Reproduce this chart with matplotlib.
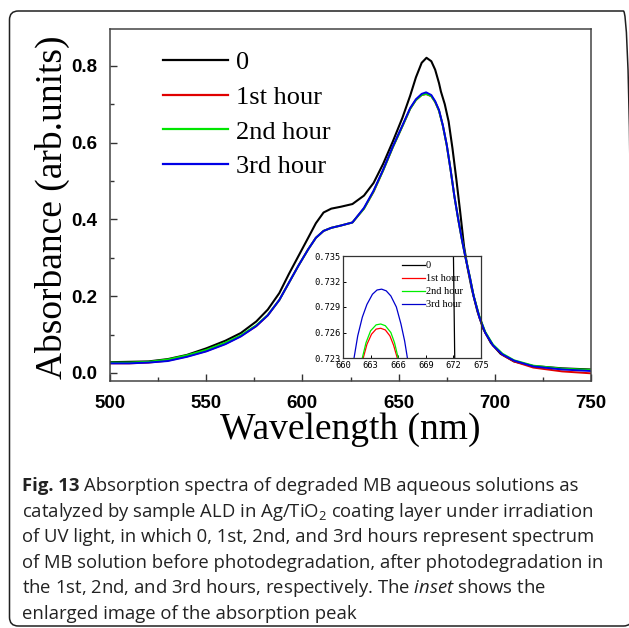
import matplotlib
matplotlib.use("Agg")
import matplotlib.pyplot as plt
from matplotlib.patches import FancyBboxPatch
from matplotlib.ticker import MultipleLocator, FormatStrFormatter

# absorbance
wl_0 = [500, 510, 520, 530, 540, 550, 560, 568, 576, 582, 588, 593, 598, 603, 607, 611,
        615, 620, 626, 632, 637, 642, 647, 652, 656, 659, 662, 664.5, 667, 669, 671, 672,
        674, 676, 678, 680, 682, 684, 686, 688, 691, 694, 698, 703, 710, 720, 735, 750]
abs_0 = [0.028, 0.029, 0.030, 0.036, 0.047, 0.064, 0.084, 0.104, 0.134, 0.165, 0.208, 0.258,
         0.305, 0.352, 0.390, 0.418, 0.428, 0.433, 0.440, 0.462, 0.495, 0.545, 0.603, 0.665,
         0.722, 0.770, 0.808, 0.821, 0.812, 0.790, 0.755, 0.733, 0.700, 0.655, 0.585, 0.505,
         0.420, 0.330, 0.270, 0.220, 0.160, 0.115, 0.078, 0.050, 0.030, 0.018, 0.012, 0.009]

wl_h = [500, 510, 520, 530, 540, 550, 560, 568, 576, 582, 588, 593, 598, 603, 607, 611,
        615, 620, 626, 632, 637, 642, 647, 652, 656, 659, 662, 664.3, 667, 669, 671, 673,
        675, 677, 679, 681, 683, 685, 687, 689, 692, 695, 699, 704, 710, 720, 735, 750]
abs_1h = [0.025, 0.025, 0.027, 0.032, 0.043, 0.057, 0.076, 0.096, 0.122, 0.150, 0.190, 0.235,
          0.280, 0.322, 0.352, 0.370, 0.378, 0.384, 0.392, 0.428, 0.472, 0.528, 0.588, 0.643,
          0.688, 0.711, 0.724, 0.7265, 0.721, 0.706, 0.683, 0.644, 0.594, 0.530, 0.460, 0.400,
          0.345, 0.295, 0.250, 0.200, 0.145, 0.105, 0.072, 0.047, 0.030, 0.014, 0.004, -0.001]
abs_2h = [0.027, 0.027, 0.029, 0.035, 0.046, 0.060, 0.079, 0.098, 0.124, 0.151, 0.190, 0.235,
          0.280, 0.322, 0.352, 0.370, 0.378, 0.384, 0.392, 0.428, 0.473, 0.528, 0.588, 0.643,
          0.688, 0.711, 0.724, 0.727, 0.721, 0.706, 0.683, 0.644, 0.594, 0.530, 0.460, 0.400,
          0.345, 0.296, 0.251, 0.201, 0.147, 0.107, 0.074, 0.050, 0.033, 0.019, 0.011, 0.008]
abs_3h = [0.025, 0.025, 0.027, 0.031, 0.042, 0.056, 0.075, 0.095, 0.122, 0.150, 0.190, 0.235,
          0.280, 0.322, 0.352, 0.370, 0.378, 0.384, 0.392, 0.430, 0.475, 0.530, 0.590, 0.645,
          0.690, 0.713, 0.727, 0.731, 0.724, 0.708, 0.685, 0.645, 0.595, 0.530, 0.460, 0.400,
          0.345, 0.295, 0.250, 0.200, 0.145, 0.105, 0.072, 0.048, 0.032, 0.017, 0.009, 0.005]

# inset (zoom on the peak)
in_wl_0 = [672.00, 672.15]
in_abs_0 = [0.7355, 0.7225]
in_wl_1h = [662.2, 662.6, 663.1, 663.6, 664.1, 664.6, 665.1, 665.5, 665.9]
in_abs_1h = [0.7230, 0.7246, 0.7258, 0.7264, 0.7265, 0.7263, 0.7256, 0.7245, 0.7230]
in_wl_2h = [662.1, 662.5, 663.0, 663.6, 664.1, 664.6, 665.2, 665.6, 666.0]
in_abs_2h = [0.7230, 0.7248, 0.7262, 0.7269, 0.7270, 0.7268, 0.7260, 0.7248, 0.7230]
in_wl_3h = [661.2, 661.6, 662.1, 662.6, 663.2, 663.7, 664.2, 664.7, 665.2, 665.8, 666.3, 666.7, 667.0]
in_abs_3h = [0.7230, 0.7256, 0.7278, 0.7293, 0.7305, 0.7310, 0.7311, 0.7309, 0.7303, 0.7290,
             0.7270, 0.7250, 0.7230]

labels = ["0", "1st hour", "2nd hour", "3rd hour"]
colors = ["black", "#e00000", "#00e600", "#0000e6"]

W, H = 629, 628
fig = plt.figure(figsize=(W / 100, H / 100), dpi=100)

# rounded frame round the figure + caption
frame = FancyBboxPatch((9.5 / W, 2 / H), 0.99, (H - 13) / H, boxstyle="round,pad=0,rounding_size=0.014",
                       transform=fig.transFigure, fill=False, ec="#202020", lw=1.1)
fig.patches.append(frame)

ax = fig.add_axes([110 / W, 1 - 381 / H, 481 / W, 352 / H])
ax.plot(wl_0, abs_0, color=colors[0], lw=1.5, label=labels[0])
ax.plot(wl_h, abs_1h, color=colors[1], lw=1.4, label=labels[1])
ax.plot(wl_h, abs_2h, color=colors[2], lw=1.4, label=labels[2])
ax.plot(wl_h, abs_3h, color=colors[3], lw=1.4, label=labels[3])
ax.set_xlim(500, 750)
ax.set_ylim(-0.021, 0.896)
ax.xaxis.set_major_locator(MultipleLocator(50))
ax.xaxis.set_minor_locator(MultipleLocator(25))
ax.yaxis.set_major_locator(MultipleLocator(0.2))
ax.yaxis.set_minor_locator(MultipleLocator(0.1))
ax.tick_params(which="both", direction="in", color="#333333", width=1)
ax.tick_params(which="major", length=5)
ax.tick_params(which="minor", length=3)
ax.tick_params(axis="x", pad=10)
ax.tick_params(axis="y", pad=9)
for lab in ax.get_xticklabels() + ax.get_yticklabels():
    lab.set_fontfamily("Liberation Sans")
    lab.set_fontweight("bold")
    lab.set_fontsize(13.5)
for sp in ax.spines.values():
    sp.set_color("#444444")
    sp.set_linewidth(1.1)

ax.text(0.5, -(430 - 381) / 352, "Wavelength (nm)", transform=ax.transAxes, ha="center",
        va="center", family="Liberation Serif", fontsize=27)
ax.text((52 - 110) / 481, 1 - (207 - 29) / 352, "Absorbance (arb.units)", transform=ax.transAxes,
        ha="center", va="center", rotation=90, family="Liberation Serif", fontsize=27)

leg = ax.legend(loc="upper left", bbox_to_anchor=((163 - 110) / 481, 1 - (51 - 29) / 352),
                frameon=False, borderpad=0, borderaxespad=0, handlelength=2.45,
                handletextpad=0.3, labelspacing=0.42,
                prop={"family": "Liberation Serif", "size": 19})
for ln in leg.get_lines():
    ln.set_linewidth(1.6)

# inset, transparent so the main curves show through
axi = fig.add_axes([343 / W, 1 - 358 / H, 138 / W, 102 / H])
axi.set_facecolor("none")
axi.plot(in_wl_0, in_abs_0, color=colors[0], lw=0.9, label=labels[0])
axi.plot(in_wl_1h, in_abs_1h, color="#ff0000", lw=0.9, label=labels[1])
axi.plot(in_wl_2h, in_abs_2h, color="#00ee00", lw=0.9, label=labels[2])
axi.plot(in_wl_3h, in_abs_3h, color="#0000cc", lw=0.9, label=labels[3])
axi.set_xlim(660, 675)
axi.set_ylim(0.723, 0.735)
axi.set_xticks([660, 663, 666, 669, 672, 675])
axi.set_yticks([0.723, 0.726, 0.729, 0.732, 0.735])
axi.yaxis.set_major_formatter(FormatStrFormatter("%.3f"))
axi.tick_params(direction="in", length=2.5, width=0.7, pad=1.5, labelsize=6.3)
axi.tick_params(axis="x", pad=2)
for lab in axi.get_xticklabels() + axi.get_yticklabels():
    lab.set_fontfamily("DejaVu Sans Mono")
for sp in axi.spines.values():
    sp.set_color("#333333")
    sp.set_linewidth(0.9)
ileg = axi.legend(loc="upper left", bbox_to_anchor=((402 - 343) / 138, 1 - (261 - 256) / 102),
                  frameon=False, borderpad=0, borderaxespad=0, handlelength=2.2,
                  handletextpad=0.1, labelspacing=0.36,
                  prop={"family": "Liberation Serif", "size": 7.5})

# caption
plt.rcParams["mathtext.fontset"] = "custom"
plt.rcParams["mathtext.rm"] = "Open Sans"
plt.rcParams["mathtext.it"] = "Open Sans:italic"
plt.rcParams["mathtext.bf"] = "Open Sans:bold"
caption = [
    "Absorption spectra of degraded MB aqueous solutions as",
    r"catalyzed by sample ALD in Ag/TiO$_2$ coating layer under irradiation",
    "of UV light, in which 0, 1st, 2nd, and 3rd hours represent spectrum",
    "of MB solution before photodegradation, after photodegradation in",
    r"the 1st, 2nd, and 3rd hours, respectively. The $\mathit{inset}$ shows the",
    "enlarged image of the absorption peak",
]
cap_style = dict(family="Open Sans", fontsize=13.3, color="#222222")
base0 = 491
fig_lab = fig.text(22 / W, 1 - base0 / H, "Fig. 13", ha="left", va="baseline",
                   fontweight="bold", **cap_style)
for i, line in enumerate(caption):
    if i == 0:
        ax.annotate(line, xy=(1, 0), xycoords=fig_lab, xytext=(3.6, 0), textcoords="offset points",
                    ha="left", va="bottom", annotation_clip=False, **cap_style)
    else:
        fig.text(22 / W, 1 - (base0 + 25.6 * i) / H, line, ha="left", va="baseline", **cap_style)

fig.savefig("out.png", dpi=100)
